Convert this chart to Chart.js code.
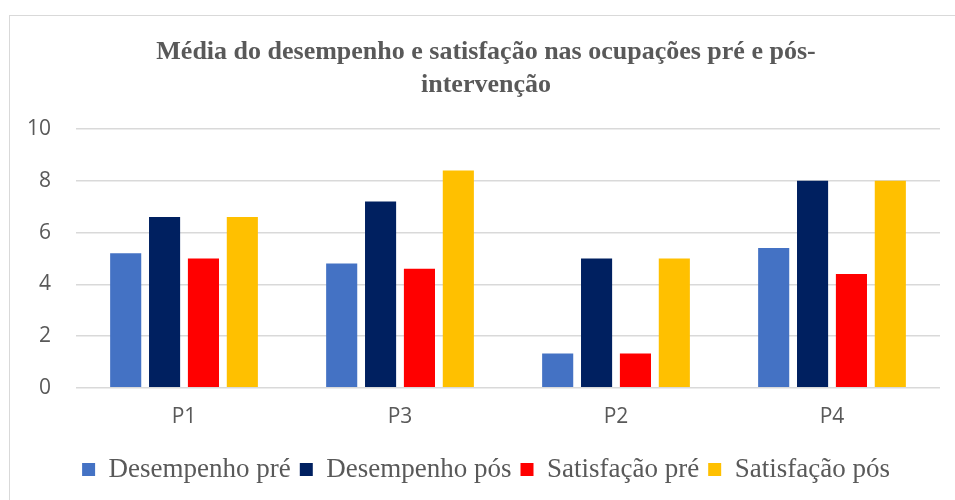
<!DOCTYPE html>
<html>
<head>
<meta charset="utf-8">
<script src="https://cdn.jsdelivr.net/npm/chart.js@4/dist/chart.umd.min.js"></script>
<style>
  html, body { margin: 0; padding: 0; background: #fff; overflow: hidden; }
  #frame { position: absolute; left: 9px; top: 15px; width: 980px; height: 520px; border: 1px solid #d9d9d9; }
  #wrap { position: absolute; left: 0; top: 0; width: 985px; height: 500px; }
</style>
</head>
<body>
<div id="frame"></div>
<div id="wrap"><canvas id="myChart"></canvas></div>
<script>
var categories = ['P1', 'P3', 'P2', 'P4'];
var desempenhoPre = [5.2, 4.8, 1.33, 5.4];
var desempenhoPos = [6.6, 7.2, 5.0, 8.0];
var satisfacaoPre = [5.0, 4.6, 1.33, 4.4];
var satisfacaoPos = [6.6, 8.4, 5.0, 8.0];
var yTicks = [0, 2, 4, 6, 8, 10];

var grey = '#595959';

var ctx = document.getElementById('myChart').getContext('2d');
var myChart = new Chart(ctx, {
    type: 'bar',
    data: {
        labels: categories,
        datasets: [
            { label: 'Desempenho pré', data: desempenhoPre, backgroundColor: '#4472C4' },
            { label: 'Desempenho pós', data: desempenhoPos, backgroundColor: '#002060' },
            { label: 'Satisfação pré', data: satisfacaoPre, backgroundColor: '#FF0000' },
            { label: 'Satisfação pós', data: satisfacaoPos, backgroundColor: '#FFC000' }
        ]
    },
    options: {
        responsive: true,
        maintainAspectRatio: false,
        animation: false,
        categoryPercentage: 0.72,
        barPercentage: 0.8,
        layout: { padding: { left: 2, right: 15, top: 36, bottom: 7 } },
        plugins: {
            title: {
                display: true,
                text: ['Média do desempenho e satisfação nas ocupações pré e pós-', 'intervenção'],
                color: grey,
                font: { family: 'Liberation Serif', size: 26, weight: 'bold', lineHeight: 1.27 },
                padding: { top: 0, bottom: 27 }
            },
            legend: {
                position: 'bottom',
                labels: {
                    color: grey,
                    boxWidth: 13,
                    boxHeight: 13,
                    padding: 9,
                    font: { family: 'Liberation Serif', size: 27 }
                }
            },
            tooltip: { enabled: false }
        },
        scales: {
            x: {
                grid: { display: false, drawTicks: false },
                border: { display: false },
                ticks: { color: grey, padding: 17, font: { family: 'Open Sans', size: 21 } }
            },
            y: {
                min: 0,
                max: 10,
                afterBuildTicks: function (axis) {
                    axis.ticks = yTicks.map(function (v) { return { value: v }; });
                },
                grid: { color: '#d9d9d9', lineWidth: 1.5, drawTicks: false },
                border: { display: false },
                ticks: { color: grey, padding: 25, font: { family: 'Open Sans', size: 21 } }
            },
            // empty right-hand spacer so the plot ends where the reference does
            spacer: {
                type: 'linear',
                position: 'right',
                grid: { display: false, drawTicks: false },
                border: { display: false },
                ticks: { display: false },
                afterFit: function (axis) { axis.width = 30; }
            }
        }
    }
});
</script>
</body>
</html>
